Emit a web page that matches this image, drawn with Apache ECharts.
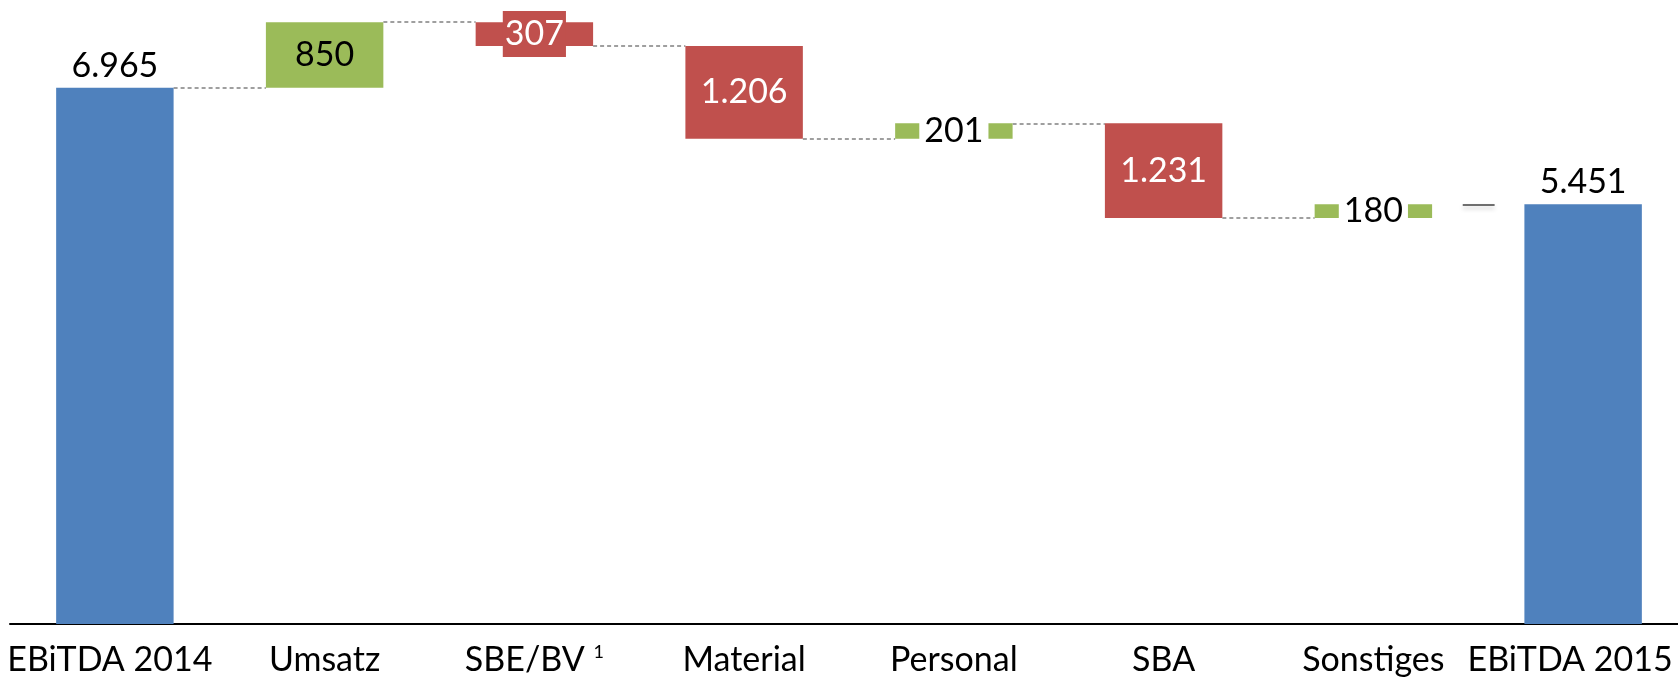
<!DOCTYPE html>
<html>
<head>
<meta charset="utf-8">
<script src="https://cdn.jsdelivr.net/npm/echarts@6/dist/echarts.min.js"></script>
<style>html,body{margin:0;padding:0;background:#fff}#c{width:1678px;height:684px}</style>
</head>
<body>
<div id="c"></div>
<script>
const categories = ['EBiTDA 2014', 'Umsatz', 'SBE/BV', 'Material', 'Personal', 'SBA', 'Sonstiges', 'EBiTDA 2015'];
const footnotes = ['', '', '1', '', '', '', '', ''];
const deltas = [6965, 850, -307, -1206, 201, -1231, 180, 5451];
const kinds = ['total', 'up', 'down', 'down', 'up', 'down', 'up', 'total'];

const BLUE = '#4F81BD', GREEN = '#9BBB59', RED = '#C0504D';
const FONT = 'Lato';

function fmt(v) {
  return String(Math.abs(v)).replace(/\B(?=(\d{3})+(?!\d))/g, '.');
}

const base = [], height = [], levels = [];
let running = 0;
deltas.forEach((v, i) => {
  if (kinds[i] === 'total') { base.push(0); height.push(v); running = v; }
  else if (v >= 0) { base.push(running); height.push(v); running += v; }
  else { running += v; base.push(running); height.push(-v); }
  levels.push(running);
});

const halfW = 0.28;
const dashed = [];
for (let i = 0; i < categories.length - 2; i++) {
  dashed.push({ coords: [[i + halfW, levels[i]], [i + 1 - halfW, levels[i]]] });
}
const last = categories.length - 1;
const solid = [{ coords: [[last - 0.574, deltas[last]], [last - 0.422, deltas[last]]] }];

const barData = height.map((h, i) => {
  const k = kinds[i];
  const color = k === 'total' ? BLUE : (k === 'up' ? GREEN : RED);
  const label = { show: true, fontFamily: FONT, fontSize: 34, formatter: fmt(deltas[i]) };
  if (k === 'total') {
    Object.assign(label, { position: 'top', distance: 5, color: '#000' });
  } else if (k === 'down') {
    Object.assign(label, { position: 'inside', color: '#fff' });
    if (h < 500) Object.assign(label, { backgroundColor: RED, padding: [7, 2, 5, 2] });
  } else {
    Object.assign(label, { position: 'inside', color: '#000' });
    if (h < 500) Object.assign(label, { backgroundColor: '#fff', padding: [0, 5, 0, 5] });
  }
  return { value: h, itemStyle: { color }, label };
});

const chart = echarts.init(document.getElementById('c'));
chart.setOption({
  animation: false,
  grid: { left: 10, width: 1678, top: 8, bottom: 60, containLabel: false, outerBoundsMode: 'none' },
  xAxis: [
    {
      type: 'category', data: categories,
      axisLine: { lineStyle: { color: '#000', width: 2 } },
      axisTick: { show: false },
      axisLabel: {
        interval: 0, margin: 19, color: '#000', fontFamily: FONT, fontSize: 34,
        hideOverlap: false,
        formatter: (v, i) => {
          if (i === 0) return '{first|' + v + '}';
          if (i === categories.length - 1) return '{last|' + v + '}';
          return footnotes[i] ? v + ' {sup|' + footnotes[i] + '}' : v;
        },
        rich: {
          sup: { fontSize: 18, fontFamily: FONT, color: '#000', verticalAlign: 'top', padding: [0, 0, 14, 0] },
          first: { fontSize: 34, fontFamily: FONT, color: '#000', padding: [0, 10, 0, 0] },
          last: { fontSize: 34, fontFamily: FONT, color: '#000', padding: [0, 26, 0, 0] }
        }
      }
    },
    { type: 'value', min: -0.5, max: categories.length - 0.5, show: false }
  ],
  yAxis: { type: 'value', min: 0, max: 8000, show: false, splitLine: { show: false } },
  series: [
    {
      type: 'bar', stack: 'w', data: base, barWidth: '56%',
      itemStyle: { color: 'transparent' }, silent: true
    },
    {
      type: 'bar', stack: 'w', data: barData, barWidth: '56%'
    },
    {
      type: 'lines', coordinateSystem: 'cartesian2d', xAxisIndex: 1, yAxisIndex: 0,
      data: dashed, symbol: 'none',
      lineStyle: { color: '#808080', width: 1.6, type: [4, 3], opacity: 1 }
    },
    {
      type: 'lines', coordinateSystem: 'cartesian2d', xAxisIndex: 1, yAxisIndex: 0,
      data: solid, symbol: 'none',
      lineStyle: { color: '#404040', width: 1.5, opacity: 1, shadowBlur: 4, shadowColor: 'rgba(0,0,0,0.25)', shadowOffsetY: 3 }
    }
  ]
});
</script>
</body>
</html>
